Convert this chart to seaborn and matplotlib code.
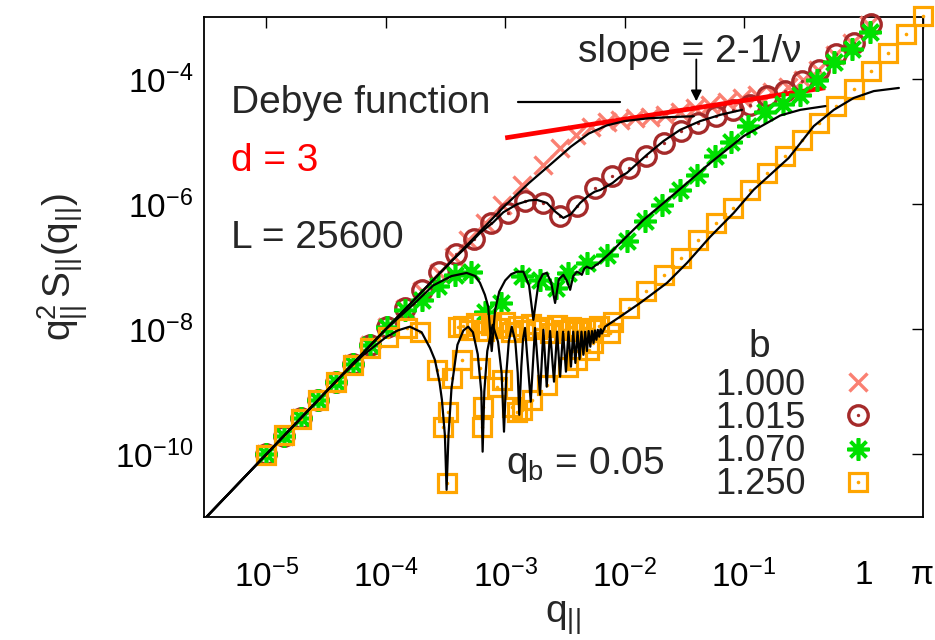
import numpy as np
import pandas as pd
import matplotlib
matplotlib.use("Agg")
import matplotlib.pyplot as plt
import seaborn as sns
from matplotlib.lines import Line2D
from matplotlib.legend_handler import HandlerTuple

# ---------------- data (log10 values) ----------------
# b = 1.000 simulation points (salmon crosses)
b1000_logq = [-5.000, -4.855, -4.711, -4.566, -4.421, -4.277, -4.132, -3.987, -3.842, -3.698,
              -3.553, -3.425, -3.310, -3.169, -3.029, -2.862, -2.680, -2.540, -2.406, -2.280,
              -2.149, -2.037, -1.911, -1.785, -1.659, -1.534, -1.408, -1.282, -1.142, -1.016,
              -0.887, -0.762, -0.627, -0.502, -0.376, -0.233, -0.091, 0.048]
b1000_logy = [-10.00, -9.71, -9.42, -9.13, -8.84, -8.55, -8.26, -7.97, -7.68, -7.39,
              -7.10, -6.85, -6.58, -6.30, -6.02, -5.70, -5.37, -5.10, -4.90, -4.77,
              -4.69, -4.65, -4.62, -4.60, -4.57, -4.52, -4.46, -4.41, -4.36, -4.30,
              -4.26, -4.21, -4.13, -4.02, -3.85, -3.61, -3.42, -3.13]

# b = 1.015 (brown circles)
b1015_logq = [-5.000, -4.855, -4.711, -4.566, -4.421, -4.277, -4.132, -3.987, -3.842, -3.698,
              -3.553, -3.408, -3.264, -3.119, -2.974, -2.830, -2.685, -2.540, -2.395, -2.251,
              -2.106, -1.961, -1.817, -1.672, -1.527, -1.383, -1.238, -1.093, -0.948, -0.804,
              -0.659, -0.514, -0.370, -0.225, -0.080, 0.065]
b1015_logy = [-10.00, -9.71, -9.42, -9.13, -8.84, -8.55, -8.26, -7.97, -7.66, -7.37,
              -7.08, -6.80, -6.56, -6.30, -6.14, -5.955, -5.98, -6.196, -6.035, -5.74,
              -5.555, -5.42, -5.234, -5.02, -4.833, -4.70, -4.593, -4.486, -4.405, -4.272,
              -4.192, -4.032, -3.845, -3.604, -3.417, -3.123]

# b = 1.070 (green asterisks)
b1070_logq = [-5.000, -4.855, -4.711, -4.566, -4.421, -4.277, -4.132, -3.987, -3.842, -3.700,
              -3.561, -3.421, -3.284, -3.170, -3.034, -2.861, -2.706, -2.571, -2.475, -2.316,
              -2.149, -1.978, -1.827, -1.687, -1.534, -1.391, -1.240, -1.106, -0.963, -0.821,
              -0.669, -0.527, -0.384, -0.242, -0.091, 0.052]
b1070_logy = [-10.00, -9.71, -9.42, -9.13, -8.84, -8.55, -8.26, -7.97, -7.70, -7.53,
              -7.317, -7.13, -7.082, -7.718, -7.583, -7.157, -7.21, -7.343, -7.103, -6.942,
              -6.809, -6.585, -6.264, -6.008, -5.768, -5.527, -5.234, -4.998, -4.742, -4.526,
              -4.389, -4.253, -4.005, -3.724, -3.524, -3.244]

# b = 1.250 (orange squares)
b1250_logq = [-5.000, -4.855, -4.711, -4.566, -4.421, -4.277, -4.132, -3.981, -3.826, -3.715,
              -3.575, -3.519, -3.491, -3.477, -3.449, -3.396,
              -3.354, -3.304, -3.245, -3.178, -3.119, -3.069, -3.002, -2.951, -2.893, -2.842,
              -2.784, -2.733, -2.683, -2.624, -2.565, -2.507, -2.448, -2.389, -2.331, -2.272, -2.213,
              -3.365, -3.211, -3.184, -3.197, -3.071, -3.029, -2.945, -2.904, -2.861, -2.778,
              -2.652, -2.475, -2.400, -2.301, -2.261, -2.121, -2.093,
              -1.961, -1.817, -1.672, -1.527, -1.383, -1.238, -1.093, -0.948, -0.804, -0.659,
              -0.514, -0.370, -0.225, -0.080, 0.065, 0.209, 0.354, 0.499]
b1250_logy = [-10.01, -9.69, -9.43, -9.14, -8.84, -8.57, -8.30, -8.119, -7.984, -8.038,
              -8.652, -9.561, -10.468, -9.321, -8.785, -7.963,
              -7.947, -8.011, -7.899, -8.027, -7.931, -7.979, -7.883, -8.043, -7.947, -8.011,
              -7.915, -7.995, -7.963, -8.059, -7.931, -8.011, -7.963, -8.027, -7.979, -7.995, -7.947,
              -8.492, -8.625, -9.240, -9.561, -8.920, -8.813, -9.240, -9.321, -9.293, -9.133,
              -8.893, -8.599, -8.492, -8.332, -8.224, -8.064, -7.878,
              -7.663, -7.397, -7.130, -6.862, -6.569, -6.301, -6.061, -5.768, -5.495, -5.234,
              -4.966, -4.699, -4.433, -4.154, -3.872, -3.577, -3.284, -2.990]

# Debye-function curves (black lines)
debye1000_logq = [-5.60, -4.00, -3.00, -2.80, -2.60, -2.45, -2.30, -2.15, -2.00, -1.80, -1.60, -1.42]
debye1000_logy = [-11.20, -8.00, -6.02, -5.66, -5.33, -5.08, -4.87, -4.74, -4.67, -4.625, -4.605, -4.593]

debye1015_logq = [-5.60, -4.00, -3.45, -3.30, -3.211, -3.10, -3.016, -2.90, -2.80, -2.736, -2.65,
                  -2.58, -2.513, -2.45, -2.372, -2.30, -2.25, -2.20, -2.10, -2.037, -1.981, -1.90,
                  -1.813, -1.674, -1.534, -1.366, -1.198, -1.016]
debye1015_logy = [-11.20, -8.00, -6.91, -6.64, -6.46, -6.29, -6.13, -6.00, -5.94, -5.93, -5.98,
                  -6.12, -6.22, -6.16, -5.98, -5.86, -5.80, -5.77, -5.66, -5.56, -5.50, -5.36,
                  -5.21, -4.99, -4.81, -4.67, -4.57, -4.49]

debye1070_logq = [-5.60, -4.00, -3.883, -3.75, -3.603, -3.45, -3.323, -3.25, -3.211, -3.17, -3.142,
                  -3.113, -3.085, -3.05, -3.00, -2.95, -2.90, -2.848, -2.80, -2.764, -2.72, -2.685,
                  -2.652, -2.615, -2.582, -2.55, -2.513, -2.485, -2.456, -2.43, -2.400, -2.378,
                  -2.358, -2.337, -2.316, -2.295, -2.274, -2.245, -2.219, -2.121, -1.841, -1.561,
                  -1.282, -1.002, -0.806, -0.695, -0.527, -0.317]
debye1070_logy = [-11.20, -8.00, -7.80, -7.57, -7.30, -7.15, -7.10, -7.15, -7.26, -7.45, -7.64,
                  -8.35, -7.70, -7.40, -7.22, -7.12, -7.08, -7.08, -7.30, -7.85, -7.25, -7.12,
                  -7.10, -7.25, -7.58, -7.20, -7.13, -7.22, -7.37, -7.15, -7.08, -7.10,
                  -7.13, -7.03, -7.00, -7.02, -7.03, -6.98, -6.95, -6.78, -6.25, -5.80,
                  -5.34, -4.91, -4.70, -4.58, -4.49, -4.43]

debye1250_logq = [-5.60, -4.40, -4.193, -4.00, -3.90, -3.799, -3.70, -3.63, -3.589, -3.55, -3.530,
                  -3.505, -3.491, -3.475, -3.45, -3.40, -3.35, -3.310, -3.27, -3.23, -3.20, -3.189,
                  -3.175, -3.15, -3.105, -3.06, -3.03, -3.010, -2.99, -2.97, -2.945, -2.915, -2.895,
                  -2.882, -2.865, -2.85, -2.834, -2.786, -2.750, -2.708, -2.680, -2.652, -2.624,
                  -2.591, -2.565, -2.540, -2.515, -2.491, -2.470, -2.449, -2.430, -2.412, -2.394,
                  -2.377, -2.361, -2.345, -2.330, -2.315, -2.301, -2.287, -2.273, -2.260, -2.248,
                  -2.236, -2.224, -2.212, -2.200, -2.190, -2.163, -2.037, -1.869, -1.645, -1.477,
                  -1.282, -1.086, -0.919, -0.625, -0.415, -0.247, -0.080, 0.088, 0.298]
debye1250_logy = [-11.20, -8.80, -8.42, -8.13, -8.02, -7.96, -8.05, -8.30, -8.49, -8.85, -9.13,
                  -9.70, -10.57, -9.70, -8.95, -8.25, -8.02, -7.96, -8.05, -8.40, -9.00, -9.96,
                  -9.00, -8.35, -7.93, -8.20, -8.70, -9.64, -8.70, -8.20, -7.96, -8.20, -8.70,
                  -9.37, -8.60, -8.15, -7.98, -9.16, -7.98, -9.05, -8.01, -8.92, -8.03,
                  -8.84, -8.04, -8.76, -8.04, -8.68, -8.04, -8.60, -8.04, -8.54, -8.04,
                  -8.48, -8.04, -8.41, -8.04, -8.35, -8.03, -8.28, -8.03, -8.22, -8.02,
                  -8.17, -8.01, -8.12, -8.00, -8.07, -7.96, -7.80, -7.58, -7.26, -6.94,
                  -6.52, -6.14, -5.77, -5.26, -4.75, -4.49, -4.30, -4.19, -4.14]

# red slope line  (slope = 2 - 1/nu)
slope_q = [1.0e-3, 0.48]
slope_y = [1.15e-5, 7.3e-5]

# arrow
arrow_q = 0.0399
arrow_y_tail = 2.07e-4
arrow_y_tip = 4.43e-5

xtick_vals = [1e-5, 1e-4, 1e-3, 1e-2, 1e-1, 1.0, np.pi]
xtick_labels = [r'$\mathregular{10^{-5}}$', r'$\mathregular{10^{-4}}$', r'$\mathregular{10^{-3}}$',
                r'$\mathregular{10^{-2}}$', r'$\mathregular{10^{-1}}$', '1', 'π']
ytick_vals = [1e-10, 1e-8, 1e-6, 1e-4]
ytick_labels = [r'$\mathregular{10^{-10}}$', r'$\mathregular{10^{-8}}$',
                r'$\mathregular{10^{-6}}$', r'$\mathregular{10^{-4}}$']
legend_labels = ['1.000', '1.015', '1.070', '1.250']

# ---------------- style ----------------
sns.set_theme(style='white')
plt.rcParams['font.family'] = ['Liberation Sans', 'DejaVu Sans']
plt.rcParams['mathtext.fontset'] = 'custom'
plt.rcParams['mathtext.rm'] = 'Liberation Sans'
plt.rcParams['mathtext.it'] = 'Liberation Sans:italic'
plt.rcParams['mathtext.bf'] = 'Liberation Sans:bold'
plt.rcParams['axes.unicode_minus'] = False

C_SALMON = '#fa8072'
C_BROWN = '#a52a2a'
C_GREEN = '#00e000'
C_ORANGE = '#ffa500'
C_RED = '#ff0000'

fig = plt.figure(figsize=(9.35, 6.4), dpi=100)
ax = fig.add_axes([0.2182, 0.1927, 0.7686, 0.7812])

def df_of(lq, ly):
    return pd.DataFrame({'q': np.power(10.0, lq), 'y': np.power(10.0, ly)})

d1000 = df_of(b1000_logq, b1000_logy)
d1015 = df_of(b1015_logq, b1015_logy)
d1070 = df_of(b1070_logq, b1070_logy)
d1250 = df_of(b1250_logq, b1250_logy)

common = dict(x='q', y='y', estimator=None, sort=False, ax=ax, legend=False)

# markers
sns.lineplot(data=d1000, **common, color=C_SALMON, linestyle='none', marker='x',
             markersize=13, markeredgewidth=2.4, markeredgecolor=C_SALMON, clip_on=False, zorder=3)
sns.lineplot(data=d1015, **common, color=C_BROWN, linestyle='none', marker='o',
             markersize=14, markeredgewidth=2.4, markerfacecolor='none',
             markeredgecolor=C_BROWN, clip_on=False, zorder=4)
sns.lineplot(data=d1015, **common, color=C_BROWN, linestyle='none', marker='o',
             markersize=2.4, markeredgewidth=0, clip_on=False, zorder=4)

# red slope line
sns.lineplot(x=slope_q, y=slope_y, ax=ax, color=C_RED, linewidth=3.4, estimator=None,
             sort=False, legend=False, zorder=5, solid_capstyle='butt')

sns.lineplot(data=d1070, **common, color=C_GREEN, linestyle='none', marker=(8, 2, 0),
             markersize=16, markeredgewidth=2.6, markeredgecolor=C_GREEN, clip_on=False, zorder=6)
sns.lineplot(data=d1250, **common, color=C_ORANGE, linestyle='none', marker='s',
             markersize=13, markeredgewidth=2.3, markerfacecolor='none',
             markeredgecolor=C_ORANGE, clip_on=False, zorder=7)
sns.lineplot(data=d1250, **common, color=C_ORANGE, linestyle='none', marker='o',
             markersize=2.6, markeredgewidth=0, clip_on=False, zorder=7)

# black Debye curves
for lq, ly in [(debye1000_logq, debye1000_logy), (debye1015_logq, debye1015_logy),
               (debye1070_logq, debye1070_logy), (debye1250_logq, debye1250_logy)]:
    sns.lineplot(data=df_of(lq, ly), **common, color='black', linewidth=1.6, zorder=8)

ax.set_xscale('log')
ax.set_yscale('log')
ax.set_xlim(3e-6, np.pi)
ax.set_ylim(1e-11, 1e-3)

ax.xaxis.set_major_locator(matplotlib.ticker.FixedLocator(xtick_vals))
ax.xaxis.set_major_formatter(matplotlib.ticker.FixedFormatter(xtick_labels))
ax.xaxis.set_minor_locator(matplotlib.ticker.NullLocator())
ax.yaxis.set_major_locator(matplotlib.ticker.FixedLocator(ytick_vals))
ax.yaxis.set_major_formatter(matplotlib.ticker.FixedFormatter(ytick_labels))
ax.yaxis.set_minor_locator(matplotlib.ticker.NullLocator())
ax.tick_params(axis='both', which='major', direction='in', length=8, width=1.0,
               top=True, right=True, labelsize=24, colors='black')
ax.tick_params(axis='x', pad=31)
ax.tick_params(axis='y', pad=8)
for s in ax.spines.values():
    s.set_linewidth(1.3)
    s.set_color('black')

ax.set_xlabel(r'$\mathregular{q_{||}}$', fontsize=28, labelpad=4)
ax.set_ylabel(r'$\mathregular{q_{||}^{2}\,S_{||}(q_{||})}$', fontsize=28, labelpad=18)

# annotations
tfs = 28
ax.text(0.0376, 0.828, 'Debye function', transform=ax.transAxes, fontsize=tfs, va='center', ha='left')
ax.plot([0.437, 0.579], [0.830, 0.830], transform=ax.transAxes, color='black', lw=1.6)
ax.text(0.0376, 0.712, 'd = 3', transform=ax.transAxes, fontsize=tfs, va='center', ha='left', color=C_RED)
ax.text(0.0376, 0.557, 'L = 25600', transform=ax.transAxes, fontsize=tfs, va='center', ha='left')
ax.text(0.520, 0.929, 'slope = 2-1/ν', transform=ax.transAxes, fontsize=tfs, va='center', ha='left')
ax.text(0.420, 0.104, r'$\mathregular{q_b}$ = 0.05', transform=ax.transAxes, fontsize=tfs,
        va='center', ha='left')
ax.annotate('', xy=(arrow_q, arrow_y_tip), xytext=(arrow_q, arrow_y_tail),
            arrowprops=dict(arrowstyle='-|>', color='black', lw=1.3, mutation_scale=16,
                            shrinkA=0, shrinkB=0), zorder=9)

# legend
ax.text(0.772, 0.34, 'b', transform=ax.transAxes, fontsize=tfs, va='center', ha='center')
h_x = Line2D([], [], color=C_SALMON, marker='x', linestyle='none', markersize=13, markeredgewidth=2.4)
h_o = (Line2D([], [], color=C_BROWN, marker='o', linestyle='none', markersize=14,
              markeredgewidth=2.4, markerfacecolor='none'),
       Line2D([], [], color=C_BROWN, marker='o', linestyle='none', markersize=2.4, markeredgewidth=0))
h_s = Line2D([], [], color=C_GREEN, marker=(8, 2, 0), linestyle='none', markersize=16, markeredgewidth=2.6)
h_q = (Line2D([], [], color=C_ORANGE, marker='s', linestyle='none', markersize=13,
              markeredgewidth=2.3, markerfacecolor='none'),
       Line2D([], [], color=C_ORANGE, marker='o', linestyle='none', markersize=2.6, markeredgewidth=0))
leg = ax.legend([h_x, h_o, h_s, h_q], legend_labels, handler_map={tuple: HandlerTuple(ndivide=1, pad=0)},
                loc='lower right', bbox_to_anchor=(0.975, -0.022), frameon=False, markerfirst=False,
                fontsize=26, labelspacing=-0.05, handlelength=1.2, handletextpad=0.85, borderpad=0.2)
leg.set_zorder(10)

fig.savefig('out.png', dpi=100, facecolor='white')
